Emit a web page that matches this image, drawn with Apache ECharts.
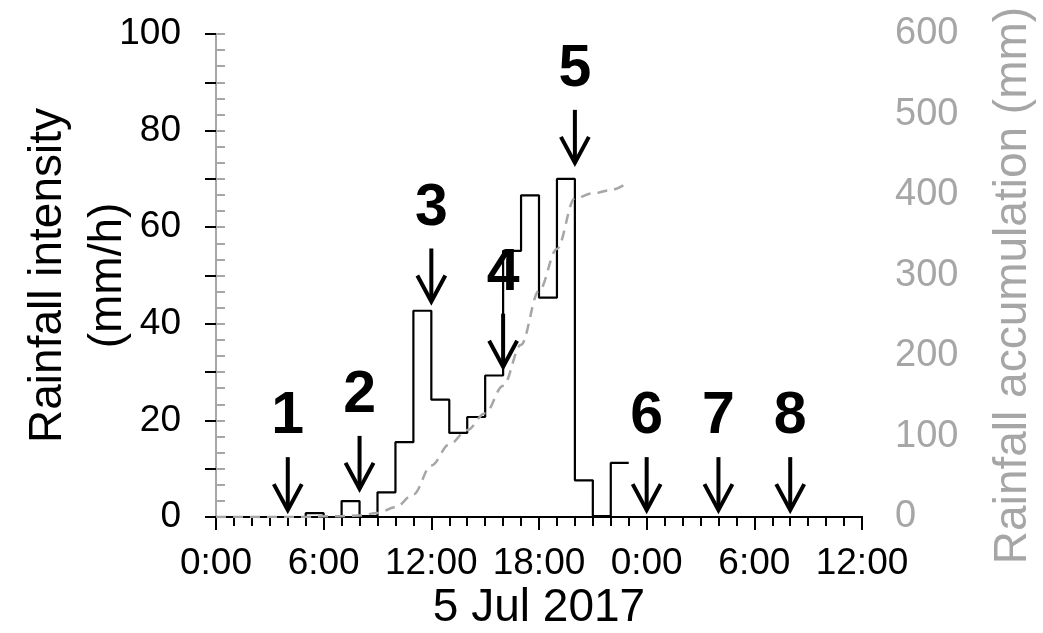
<!DOCTYPE html>
<html>
<head>
<meta charset="utf-8">
<script src="https://cdn.jsdelivr.net/npm/echarts@6/dist/echarts.min.js"></script>
<style>
  html, body { margin: 0; padding: 0; background: #ffffff; }
  #chart { width: 1043px; height: 633px; }
</style>
</head>
<body>
<div id="chart"></div>
<script>
// Hourly rainfall intensity (mm/h); each value covers one hour starting at the given hour of 5 Jul 2017
const intensityHours = [0, 1, 2, 3, 4, 5, 6, 7, 8, 9, 10, 11, 12, 13, 14, 15, 16, 17, 18, 19, 20, 21, 22];
const intensity = [0, 0, 0, 0, 0, 0.8, 0, 3.3, 0.2, 5.1, 15.5, 42.7, 24.3, 17.4, 20.7, 29.3, 55.1, 66.6, 45.4, 70.0, 7.6, 0.2, 11.2];

// Rainfall accumulation (mm) since 0:00
const accumHours = [0, 1, 2, 3, 4, 5, 6, 7, 8, 9, 10, 11, 12, 13, 14, 15, 16, 17, 18, 19, 20, 21, 22, 22.7];
const accum = [0, 0, 0, 0, 0, 0, 1, 1, 2, 5, 12, 28, 64, 90, 108, 129, 163, 214, 281, 333, 396, 402, 406, 412];

// Numbered events: hour (from 0:00 on 5 Jul) and the intensity level where each arrow points
const eventLabels = ['1', '2', '3', '4', '5', '6', '7', '8'];
const eventHours = [4, 8, 12, 16, 20, 24, 28, 32];
const eventTips = [0.8, 5.2, 44, 30.5, 72.7, 0.8, 0.8, 0.8];

// Axis ranges
const hourRange = [0, 36];
const intensityRange = [0, 100];
const accumRange = [0, 600];

const FONT = '"Liberation Sans", Arial, Helvetica, sans-serif';
const GRAY = '#a6a6a6';

// Step outline: each hourly value is held until the next hour
const stepData = intensity.map((v, i) => [intensityHours[i], v]);
stepData.push([intensityHours[intensityHours.length - 1] + 1, intensity[intensity.length - 1]]);

const accumData = accum.map((v, i) => [accumHours[i], v]);
const eventData = eventHours.map((h, i) => [h, eventTips[i]]);

const chart = echarts.init(document.getElementById('chart'), null, { renderer: 'canvas' });

const option = {
  animation: false,
  backgroundColor: '#ffffff',
  textStyle: { fontFamily: FONT },
  grid: { left: 216, right: 181, top: 34, bottom: 116, containLabel: false, outerBoundsMode: 'none' },
  xAxis: [
    {
      type: 'value',
      min: hourRange[0], max: hourRange[1], interval: 6,
      name: '5 Jul 2017',
      nameLocation: 'middle', nameGap: 68, nameMoveOverlap: false,
      nameTextStyle: { color: '#000', fontSize: 46, fontFamily: FONT },
      axisLine: { show: true, lineStyle: { color: '#000', width: 2 } },
      axisTick: { show: true, inside: false, length: 13, lineStyle: { color: '#000', width: 2 } },
      minorTick: { show: true, splitNumber: 6, length: 9, lineStyle: { color: '#000', width: 2 } },
      splitLine: { show: false },
      axisLabel: {
        color: '#000', fontSize: 37, fontFamily: FONT, margin: 28,
        formatter: v => (v % 24) + ':00'
      }
    },
    {
      type: 'value', position: 'top',
      min: hourRange[0], max: hourRange[1],
      axisLine: { show: true, lineStyle: { color: '#000', width: 2 } },
      axisTick: { show: false }, axisLabel: { show: false }, splitLine: { show: false }
    }
  ],
  yAxis: [
    {
      type: 'value', position: 'left',
      min: intensityRange[0], max: intensityRange[1], interval: 20,
      name: 'Rainfall intensity\n(mm/h)',
      nameLocation: 'middle', nameRotate: 90, nameGap: 78, nameMoveOverlap: false,
      nameTextStyle: { color: '#000', fontSize: 46, lineHeight: 60, fontFamily: FONT },
      axisLine: { show: true, lineStyle: { color: '#000', width: 2 } },
      axisTick: { show: true, inside: false, length: 11, lineStyle: { color: '#000', width: 2 } },
      minorTick: { show: true, splitNumber: 2, length: 11, lineStyle: { color: '#000', width: 2 } },
      splitLine: { show: false },
      axisLabel: { color: '#000', fontSize: 37, fontFamily: FONT, margin: 35 }
    },
    {
      type: 'value', position: 'right',
      min: accumRange[0], max: accumRange[1], interval: 100,
      name: 'Rainfall accumulation (mm)',
      nameLocation: 'middle', nameRotate: 90, nameGap: 128, nameMoveOverlap: false,
      nameTextStyle: { color: GRAY, fontSize: 46, fontFamily: FONT, padding: [0, 20, 0, 0] },
      axisLine: { show: true, lineStyle: { color: GRAY, width: 2 } },
      axisTick: { show: true, inside: false, length: 9, lineStyle: { color: GRAY, width: 2 } },
      minorTick: { show: true, splitNumber: 5, length: 9, lineStyle: { color: GRAY, width: 2 } },
      splitLine: { show: false },
      axisLabel: { color: GRAY, fontSize: 38, fontFamily: FONT, margin: 33 }
    }
  ],
  series: [
    {
      name: 'Rainfall intensity',
      type: 'line', xAxisIndex: 0, yAxisIndex: 0,
      step: 'end', symbol: 'none',
      lineStyle: { color: '#000', width: 2.2 },
      data: stepData, z: 3
    },
    {
      name: 'Rainfall accumulation',
      type: 'line', xAxisIndex: 0, yAxisIndex: 1,
      smooth: 0.35, smoothMonotone: 'x', symbol: 'none',
      lineStyle: { color: GRAY, width: 2.5, type: [10, 7] },
      data: accumData, z: 4
    },
    {
      name: 'Events',
      type: 'custom', xAxisIndex: 0, yAxisIndex: 0,
      clip: false, z: 5,
      data: eventData,
      renderItem: (params, api) => {
        const p = api.coord([api.value(0), api.value(1)]);
        const x = p[0];
        const y = p[1] - 3;
        const shaft = 53, headW = 14, headH = 26;
        return {
          type: 'group',
          children: [
            { type: 'line', shape: { x1: x, y1: y - shaft, x2: x, y2: y - 2 },
              style: { stroke: '#000', lineWidth: 4 } },
            { type: 'polyline', shape: { points: [[x - headW, y - headH], [x, y], [x + headW, y - headH]] },
              style: { stroke: '#000', lineWidth: 4, fill: null, lineJoin: 'miter' } },
            { type: 'text',
              style: { text: eventLabels[params.dataIndex], x: x, y: y - shaft - 40,
                       align: 'center', verticalAlign: 'middle',
                       font: 'bold 59px ' + FONT, fill: '#000' } }
          ]
        };
      }
    }
  ]
};

chart.setOption(option);
</script>
</body>
</html>
